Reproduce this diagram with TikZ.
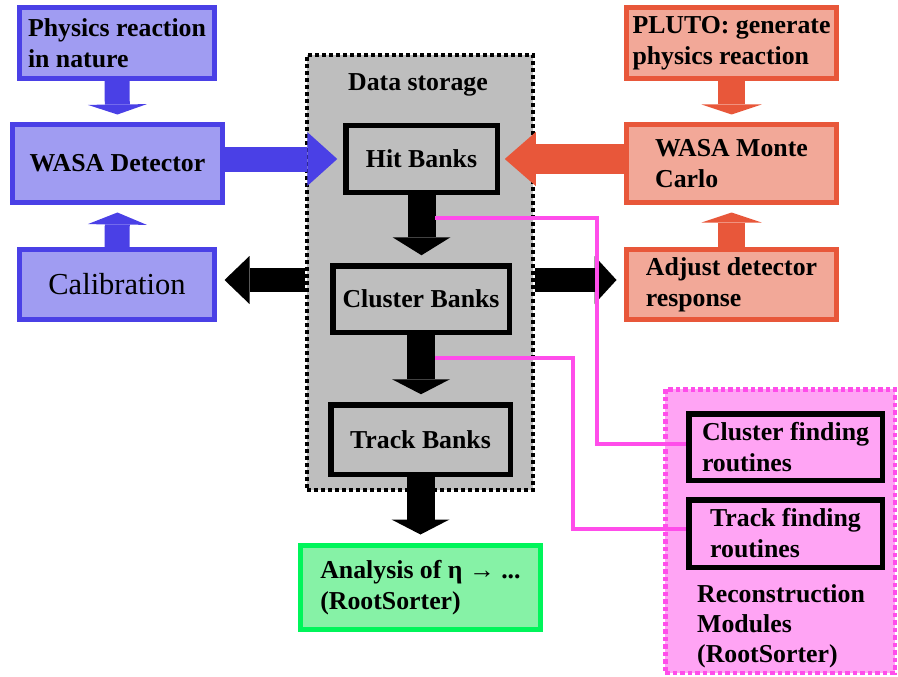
\documentclass[tikz,border=0pt]{standalone}
\usepackage{fontspec}
\setmainfont{Liberation Serif}
\usetikzlibrary{arrows.meta,calc}
\definecolor{myblue}{HTML}{4A40E6}
\definecolor{bluefill}{HTML}{A09CF2}
\definecolor{myorange}{HTML}{E8573A}
\definecolor{orangefill}{HTML}{F2A898}
\definecolor{mygreen}{HTML}{00F55A}
\definecolor{greenfill}{HTML}{86F2A6}
\definecolor{mypink}{HTML}{FF4DEA}
\definecolor{pinkfill}{HTML}{FFA4F4}
\definecolor{grayfill}{HTML}{BEBEBE}
\pgfdeclarelayer{bg}
\pgfsetlayers{bg,main}
\tikzset{
  txt/.style={font=\bfseries\fontsize{25.8}{31}\selectfont, align=left, inner sep=0pt},
  colbox/.style 2 args={draw=#1, fill=#2, line width=5pt, txt},
  bankbox/.style={draw=black, fill=grayfill, line width=5.5pt, txt},
  findbox/.style={draw=black, fill=pinkfill, line width=5.5pt, txt},
  fatarrow/.style n args={4}{draw=#1, line width=#2, line cap=butt,
     -{Triangle[length=#3, width=#4, line width=0pt]}},
  pinkline/.style={draw=mypink, line width=4pt}
}
\begin{document}
\begin{tikzpicture}[x=1pt,y=-1pt]
\useasboundingbox (0,0) rectangle (898,677);
% containers
\node[draw=black, fill=grayfill, line width=4pt, dash pattern=on 4pt off 3pt,
      minimum width=226pt, minimum height=435pt, inner sep=0pt] (storage) at (420,272.5) {};
\node[txt, anchor=base] (dslabel) at (418,91) {Data storage};
\node[draw=mypink, fill=pinkfill, line width=4.5pt, dash pattern=on 4.5pt off 3pt,
      minimum width=229.5pt, minimum height=283.5pt, inner sep=0pt] (recon) at (780,531) {};
\node[txt, anchor=north west] (reclabel) at (697,584) {Reconstruction\\[-1pt]Modules\\[-1pt](RootSorter)};
% left column
\node[colbox={myblue}{bluefill}, minimum width=195pt, minimum height=71pt] (phys) at (117,43) {Physics reaction\\in nature};
\node[colbox={myblue}{bluefill}, minimum width=210pt, minimum height=78pt] (wasa) at (117.5,163.5) {WASA Detector};
\node[colbox={myblue}{bluefill}, minimum width=195pt, minimum height=70pt,
      font=\mdseries\fontsize{30.5}{36}\selectfont] (calib) at (117,284.5) {Calibration};
% right column
\node[colbox={myorange}{orangefill}, minimum width=210pt, minimum height=71pt] (pluto) at (731.5,43) {PLUTO: generate\\physics reaction};
\node[colbox={myorange}{orangefill}, minimum width=210pt, minimum height=78pt] (mc) at (731.5,163.5) {WASA Monte\\Carlo};
\node[colbox={myorange}{orangefill}, minimum width=210pt, minimum height=70pt] (adjust) at (731.5,284.5) {Adjust detector\\response};
% banks
\node[bankbox, minimum width=151.5pt, minimum height=66.5pt] (hit) at (421.5,159) {Hit Banks};
\node[bankbox, minimum width=176.5pt, minimum height=66.5pt] (cluster) at (421,299) {Cluster Banks};
\node[bankbox, minimum width=179.5pt, minimum height=69.5pt] (track) at (420.5,439.5) {Track Banks};
% analysis
\node[colbox={mygreen}{greenfill}, minimum width=240pt, minimum height=84pt] (analysis) at (420.5,587.5) {Analysis of η → ...\\(RootSorter)};
% finding routines
\node[findbox, minimum width=193.5pt, minimum height=66.5pt] (cfind) at (785.5,447) {Cluster finding\\routines};
\node[findbox, minimum width=193.5pt, minimum height=67.5pt] (tfind) at (785.5,533.5) {Track finding\\routines};
% arrows behind boxes
\begin{pgfonlayer}{bg}
\draw[fatarrow={myblue}{25pt}{10pt}{59pt}, shorten >=7.5pt] (phys.south) -- (wasa.north);
\draw[fatarrow={myblue}{25pt}{12pt}{59pt}, shorten >=7.5pt] (calib.north) -- (wasa.south);
\draw[fatarrow={myorange}{27pt}{10pt}{60pt}, shorten >=7.5pt] (pluto.south) -- (mc.north);
\draw[fatarrow={myorange}{27pt}{10pt}{60pt}, shorten >=7.5pt] (adjust.north) -- (mc.south);
\coordinate (lrow) at ($(storage.west)+(0,7.5)$);
\coordinate (rrow) at ($(storage.east)+(0,7.5)$);
\draw[fatarrow={black}{24pt}{25pt}{48pt}, shorten >=7.5pt] (lrow) -- (lrow -| calib.east);
\draw[fatarrow={black}{24pt}{22pt}{48pt}, shorten >=7.5pt] (rrow) -- (rrow -| adjust.west);
\end{pgfonlayer}
% arrows over the storage box
\draw[fatarrow={myblue}{25pt}{30pt}{54pt}, shorten >=5.75pt] (wasa.east |- hit.west) -- (hit.west);
\draw[fatarrow={myorange}{30pt}{31pt}{54pt}, shorten >=4.75pt] (mc.west |- hit.east) -- (hit.east);
\draw[fatarrow={black}{28pt}{18pt}{58pt}, shorten >=7.75pt] (hit.south) -- (hit.south |- cluster.north);
\draw[fatarrow={black}{28pt}{15pt}{58pt}, shorten >=7.75pt] (cluster.south) -- (cluster.south |- track.north);
\draw[fatarrow={black}{28pt}{15pt}{58pt}, shorten >=8.5pt] (track.south) -- (track.south |- analysis.north);
% pink links
\coordinate (p1) at (435,218);
\coordinate (p2) at (435,358);
\coordinate (c1) at ($(cfind.west)+(0,-3.5)$);
\coordinate (c2) at ($(tfind.west)+(0,-4.5)$);
\draw[pinkline] (p1) -- (p1 -| 597,0) |- (c1);
\draw[pinkline] (p2) -- (p2 -| 573,0) |- (c2);
\end{tikzpicture}
\end{document}
